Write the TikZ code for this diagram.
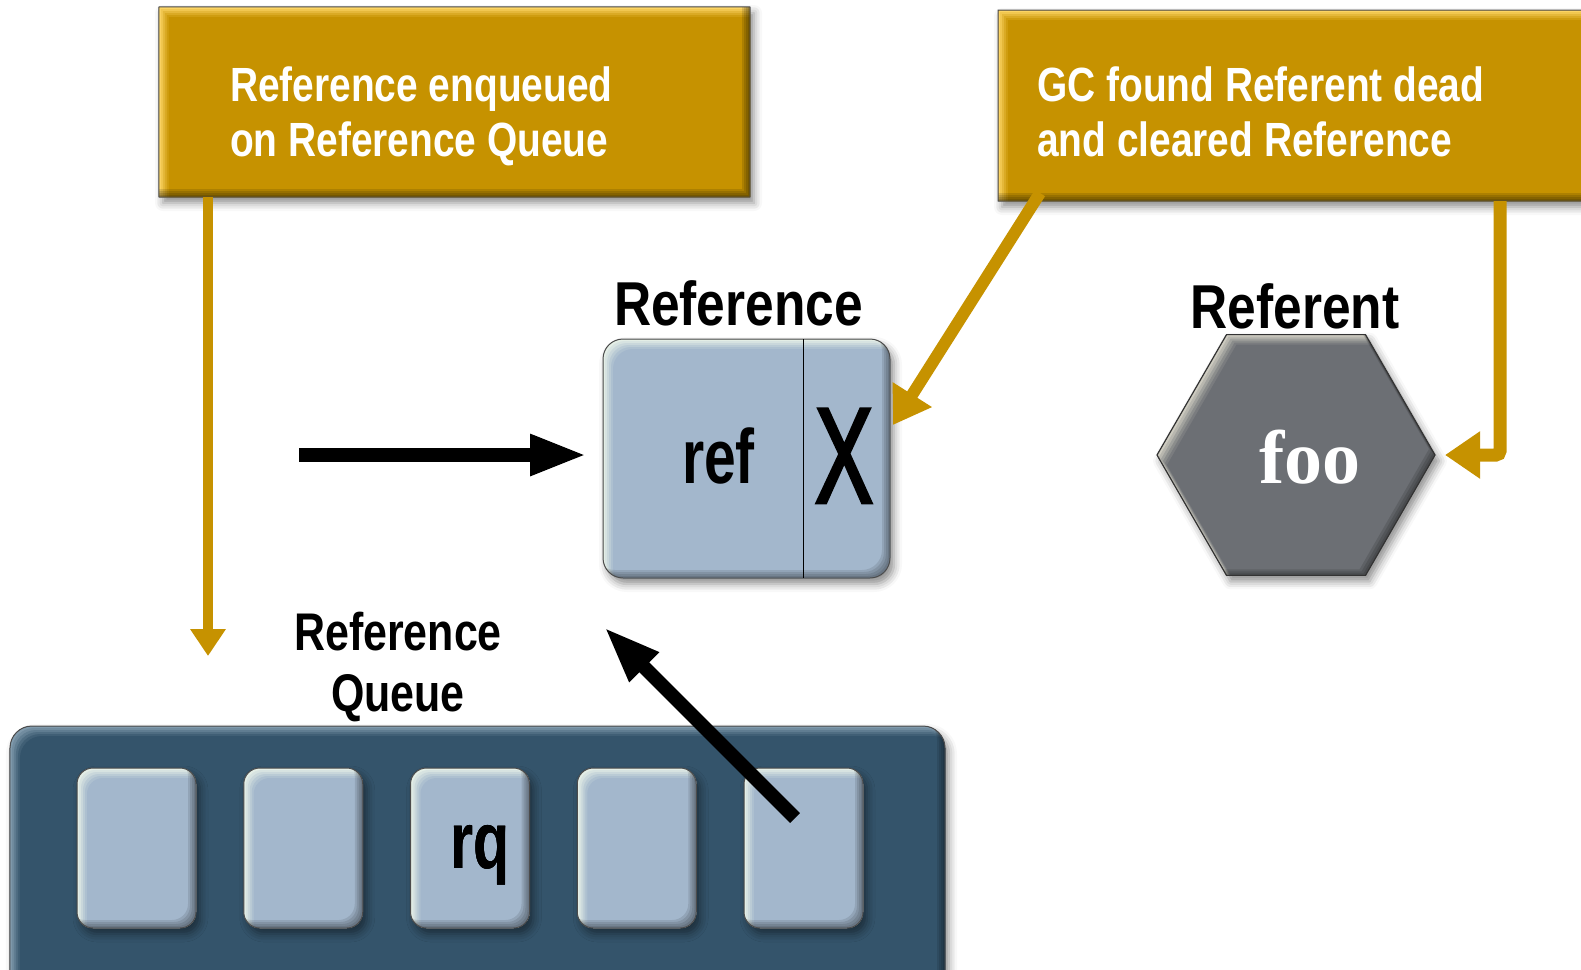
\documentclass[tikz,border=0pt]{standalone}
\usepackage{fontspec}
\usetikzlibrary{arrows.meta,shapes.geometric,shadows.blur}

% condensed sans faces for the labels, a serif for the object name
\newfontfamily\condfont[FakeStretch=0.81]{Liberation Sans}
\newfontfamily\labfont[FakeStretch=0.83]{Liberation Sans}
\newfontfamily\narrowfont[FakeStretch=0.74]{Liberation Sans}
\newfontfamily\xfont[FakeStretch=0.64,FakeBold=2]{Liberation Sans}
\newfontfamily\seriffont{Liberation Serif}

\definecolor{gold}{RGB}{198,146,0}
\definecolor{goldhi}{RGB}{252,212,100}
\definecolor{paleblue}{RGB}{163,183,204}
\definecolor{palehi}{RGB}{228,238,230}
\definecolor{navy}{RGB}{52,84,107}
\definecolor{navyhi}{RGB}{128,154,172}
\definecolor{hexgray}{RGB}{108,111,116}
\definecolor{hexhi}{RGB}{205,203,192}

% text set as a left-aligned or centred block whose baseline is its first line
\newcommand\leftlines[2]{\begin{tabular}[t]{@{}l@{}}#1\\#2\end{tabular}}
\newcommand\centerlines[2]{\begin{tabular}[t]{@{}c@{}}#1\\#2\end{tabular}}

% raised-panel look: light top-left edge, darker bottom-right edge, thin outline
% #1 node, #2 corner radius, #3 highlight colour, #4 face colour, #5 shade opacity
\newcommand\bevel[5]{%
  \begin{scope}
    \clip[rounded corners=#2] (#1.north west) rectangle (#1.south east);
    \foreach \dd/\pc in {0/100,2/80,4/58,6/36,8/16,10/0}
      \fill[#3!\pc!#4, rounded corners=#2]
        ([shift={(\dd,\dd)}]#1.north west) rectangle ([shift={(\dd,\dd)}]#1.south east);
    \foreach \dd in {2,4,6,8}
      \fill[even odd rule, black, opacity=#5, rounded corners=#2]
        (#1.north west) rectangle (#1.south east)
        ([shift={(-\dd,-\dd)}]#1.north west) rectangle ([shift={(-\dd,-\dd)}]#1.south east);
  \end{scope}
  \draw[rounded corners=#2, black!70, line width=1bp] (#1.north west) rectangle (#1.south east);
}

% outline of the hexagon, moved by (#1,#2)
\newcommand\hexat[2]{([shift={(#1,#2)}]hex.corner 1) -- ([shift={(#1,#2)}]hex.corner 2)
  -- ([shift={(#1,#2)}]hex.corner 3) -- ([shift={(#1,#2)}]hex.corner 4)
  -- ([shift={(#1,#2)}]hex.corner 5) -- ([shift={(#1,#2)}]hex.corner 6) -- cycle}

\begin{document}
\begin{tikzpicture}[x=1bp, y=-1bp,
  softshadow/.style={blur shadow={shadow xshift=4bp, shadow yshift=-6bp,
      shadow blur radius=8bp, shadow opacity=45}},
  goldbox/.style={fill=gold, inner sep=0, outer sep=0, softshadow},
  panel/.style={fill=paleblue, inner sep=0, outer sep=0, rounded corners=#1, softshadow},
  goldtext/.style={font=\condfont\bfseries\fontsize{48bp}{55bp}\selectfont,
      text=white, inner sep=0, anchor=base west},
  title/.style={font=\labfont\bfseries\fontsize{62bp}{62bp}\selectfont,
      inner sep=0, anchor=base},
  blackarrow/.style={line width=14bp, -{Triangle[length=57bp,width=38bp]}},
  goldarrow/.style n args={3}{draw=gold, line width=#1,
      -{Triangle[length=#2,width=#3]}},
]
\useasboundingbox (0,0) rectangle (1581,969);

% ---- caption boxes ----
\node[goldbox, minimum width=591bp, minimum height=190bp] (enq) at (454.5,102) {};
\bevel{enq}{0.1bp}{goldhi}{gold}{.12}
\node[goldbox, minimum width=622bp, minimum height=191bp] (gc) at (1309,105.5) {};
\bevel{gc}{0.1bp}{goldhi}{gold}{.12}

\node[goldtext] (enqtxt) at (230,101)
  {\leftlines{Reference enqueued}{on Reference Queue}};
\node[goldtext] (gctxt) at (1037,101)
  {\leftlines{GC found Referent dead}{and cleared Reference}};

% ---- the Reference object ----
\node[panel=20bp, minimum width=287bp, minimum height=239bp] (ref) at (746.5,458.5) {};
\bevel{ref}{20bp}{palehi}{paleblue}{.1}
\draw[line width=1bp] ([xshift=200bp]ref.north west) -- ([xshift=200bp]ref.south west);
\node[title] (reflab) at (738.5,325) {Reference};
\node[font=\narrowfont\bfseries\fontsize{77bp}{77bp}\selectfont, inner sep=0, anchor=base]
  (reftxt) at (718.5,483) {ref};
\node[font=\xfont\fontsize{137bp}{137bp}\selectfont, inner sep=0, anchor=base]
  (xtxt) at (844,503) {X};

% ---- the Referent object ----
\node[regular polygon, regular polygon sides=6, minimum size=278bp, inner sep=0,
  outer sep=0, fill=hexgray, softshadow] (hex) at (1296,455) {};
\begin{scope}
  \clip \hexat{0}{0};
  \foreach \dd/\pc in {0/100,2/78,4/55,6/32,8/14,10/0}
    \fill[hexhi!\pc!hexgray] \hexat{\dd}{\dd};
  \foreach \dd in {2,4,6}
    \fill[even odd rule, black, opacity=.12] \hexat{0}{0} \hexat{-\dd}{-\dd};
\end{scope}
\draw[black!80, line width=1.2bp] \hexat{0}{0};
\node[title] (referentlab) at (1295,328) {Referent};
\node[font=\seriffont\bfseries\fontsize{76bp}{76bp}\selectfont, text=white,
  inner sep=0, anchor=base] (footxt) at (1310,483) {foo};

% ---- the Reference Queue ----
\node[fill=navy, inner sep=0, outer sep=0, rounded corners=22bp, softshadow,
  minimum width=935bp, minimum height=274bp] (queue) at (477.5,863) {};
\bevel{queue}{22bp}{navyhi}{navy}{.1}
\foreach \i in {1,...,5}
  \node[panel=16bp, minimum width=119bp, minimum height=160bp]
    (s\i) at ({136.5+166.75*(\i-1)},848) {};
\foreach \i in {1,...,5}
  \bevel{s\i}{16bp}{palehi}{paleblue}{.1}
\node[font=\narrowfont\bfseries\fontsize{80bp}{80bp}\selectfont, inner sep=0,
  anchor=base] (rqtxt) at (480,868) {rq};
\node[font=\condfont\bfseries\fontsize{53bp}{61bp}\selectfont, inner sep=0,
  anchor=base] (qlab) at (398,650) {\centerlines{Reference}{Queue}};

% ---- connectors ----
\coordinate (instart) at (299,455);
\draw[blackarrow] (instart) -- ([xshift=-16bp]ref.west |- instart);
\coordinate (qtip) at (604,627);
\draw[blackarrow] ([shift={(-8.5,-30)}]s5.center) -- (qtip);

\coordinate (enqtip) at (208,656);
\draw[goldarrow={10bp}{27bp}{34bp}] (enq.south -| enqtip) -- (enqtip);
\coordinate (reftip) at (893,425);
\draw[goldarrow={12bp}{36bp}{44bp}] ([shift={(42,-8)}]gc.south west) -- (reftip);
\draw[goldarrow={13bp}{35bp}{45bp}, rounded corners=4bp]
  ([xshift=502bp]gc.south west) |- ([xshift=10bp]hex.east);
\end{tikzpicture}
\end{document}
